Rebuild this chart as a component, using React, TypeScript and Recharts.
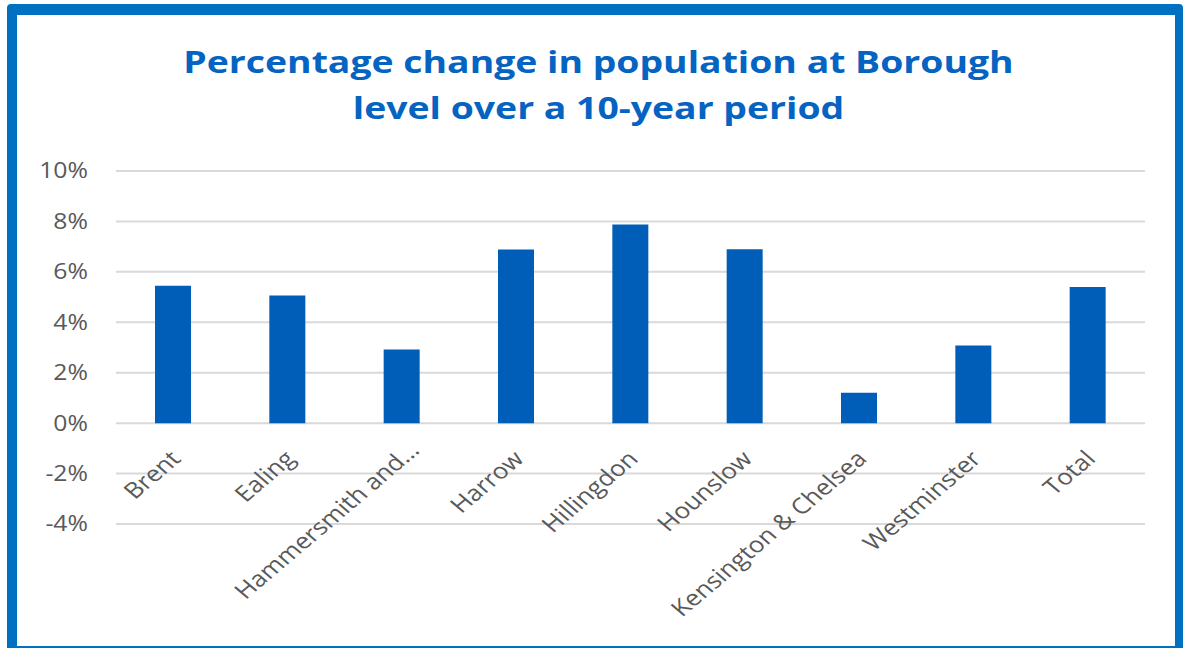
import React from "react";
import { BarChart, Bar, XAxis, YAxis, CartesianGrid } from "recharts";

const boroughs = [
  "Brent",
  "Ealing",
  "Hammersmith and…",
  "Harrow",
  "Hillingdon",
  "Hounslow",
  "Kensington & Chelsea",
  "Westminster",
  "Total",
];
const changePct = [5.45, 5.06, 2.92, 6.89, 7.88, 6.9, 1.21, 3.08, 5.4];
const yTicks = [-4, -2, 0, 2, 4, 6, 8, 10];
const titleLines = [
  "Percentage change in population at Borough",
  "level over a 10-year period",
];

const W = 1185;
const H = 648;
const X_AXIS_H = 30;
const MARGIN = { top: 171, right: 40, bottom: 124 - X_AXIS_H, left: 56 };
const Y_MIN = -4;
const Y_MAX = 10;
const PLOT_H = H - MARGIN.top - 124;
// the category axis crosses at 0%, so labels hang from the zero line
const ZERO_Y = MARGIN.top + (PLOT_H * Y_MAX) / (Y_MAX - Y_MIN);

// the source image is stretched sideways a little
const STRETCH = 1.18;
const FONT = "'Open Sans', 'Segoe UI', sans-serif";
const GREY = "#595959";

const rows = boroughs.map((name, i) => ({ name, value: changePct[i] }));

function CategoryTick(props: any) {
  const { x, payload } = props;
  const label: string = payload.value;
  // Excel nudges a clipped label along its baseline
  const nudge = label.endsWith("…") ? 12 : 0;
  return (
    <g transform={`translate(${x + 9},${ZERO_Y + 37}) scale(${STRETCH},1)`}>
      <text
        textAnchor="end"
        transform="rotate(-45)"
        dx={nudge}
        fill={GREY}
        fontSize={22}
        fontFamily={FONT}
      >
        {label}
      </text>
    </g>
  );
}

function ValueTick(props: any) {
  const { x, y, payload } = props;
  return (
    <g transform={`translate(${x},${y}) scale(${STRETCH},1)`}>
      <text
        textAnchor="end"
        dy="0.355em"
        fill={GREY}
        fontSize={21}
        fontFamily={FONT}
      >
        {`${payload.value}%`}
      </text>
    </g>
  );
}

export default function App() {
  return (
    <div
      style={{
        position: "fixed",
        left: 0,
        top: 0,
        width: W,
        height: H,
        background: "#fff",
        overflow: "hidden",
      }}
    >
      <div
        style={{
          position: "absolute",
          left: 7,
          top: 4,
          width: 1176,
          height: 650,
          boxSizing: "border-box",
          borderStyle: "solid",
          borderColor: "#0070C0",
          borderWidth: "11px 8px 8px 10px",
          borderRadius: 4,
        }}
      />
      <div
        style={{
          position: "absolute",
          left: 0,
          top: 38,
          width: 1197,
          textAlign: "center",
          color: "#0563C1",
          fontFamily: FONT,
          fontWeight: 700,
          fontSize: 31,
          lineHeight: "46px",
          transform: "scaleX(1.205)",
        }}
      >
        {titleLines.map((t) => (
          <div key={t}>{t}</div>
        ))}
      </div>
      <div style={{ position: "absolute", left: 0, top: 0 }}>
        <BarChart width={W} height={H} data={rows} margin={MARGIN}>
          <CartesianGrid
            vertical={false}
            stroke="#D9D9D9"
            strokeWidth={2}
          />
          <XAxis
            dataKey="name"
            axisLine={false}
            tickLine={false}
            interval={0}
            tick={<CategoryTick />}
            height={X_AXIS_H}
          />
          <YAxis
            domain={[Y_MIN, Y_MAX]}
            ticks={yTicks}
            axisLine={false}
            tickLine={false}
            tickSize={0}
            tickMargin={28}
            width={60}
            tick={<ValueTick />}
          />
          <Bar
            dataKey="value"
            fill="#005EB8"
            barSize={36}
            isAnimationActive={false}
          />
        </BarChart>
      </div>
    </div>
  );
}
